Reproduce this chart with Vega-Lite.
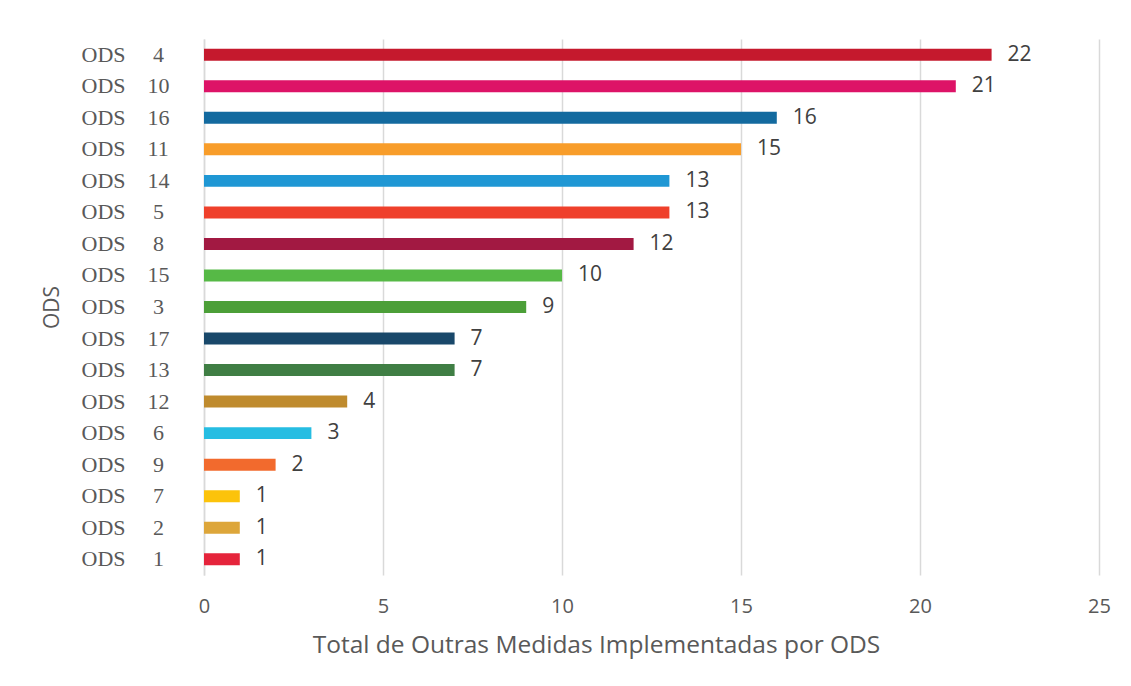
{
  "$schema": "https://vega.github.io/schema/vega-lite/v6.json",
  "autosize": "none",
  "width": 895,
  "height": 536,
  "padding": {"left": 204, "top": 39, "right": 32, "bottom": 111},
  "background": "white",
  "config": {"view": {"stroke": null}},
  "data": {"values": [
    {"ods": "ODS 4", "total": 22, "color": "#C5192D"},
    {"ods": "ODS 10", "total": 21, "color": "#DD1367"},
    {"ods": "ODS 16", "total": 16, "color": "#136A9F"},
    {"ods": "ODS 11", "total": 15, "color": "#F89D2A"},
    {"ods": "ODS 14", "total": 13, "color": "#1F97D4"},
    {"ods": "ODS 5", "total": 13, "color": "#EF402B"},
    {"ods": "ODS 8", "total": 12, "color": "#A21942"},
    {"ods": "ODS 15", "total": 10, "color": "#56B946"},
    {"ods": "ODS 3", "total": 9, "color": "#4C9F38"},
    {"ods": "ODS 17", "total": 7, "color": "#19486A"},
    {"ods": "ODS 13", "total": 7, "color": "#3F7E44"},
    {"ods": "ODS 12", "total": 4, "color": "#BF8B2E"},
    {"ods": "ODS 6", "total": 3, "color": "#26BDE2"},
    {"ods": "ODS 9", "total": 2, "color": "#F26A2D"},
    {"ods": "ODS 7", "total": 1, "color": "#FCC30B"},
    {"ods": "ODS 2", "total": 1, "color": "#DDA63A"},
    {"ods": "ODS 1", "total": 1, "color": "#E5243B"}
  ]},
  "encoding": {
    "y": {
      "field": "ods", "type": "nominal", "sort": null,
      "scale": {"paddingInner": 0.62, "paddingOuter": 0.31},
      "axis": {
        "title": "ODS",
        "titleFont": "Open Sans", "titleFontSize": 21, "titleFontWeight": "normal", "titleColor": "#595959",
        "titlePadding": 19,
        "labelFont": "Liberation Serif", "labelFontSize": 22, "labelColor": "#595959",
        "labelAlign": "left", "labelPadding": 123, "ticks": false,
        "labelExpr": "replace(datum.value, ' ', length(datum.value) == 5 ? '\u00a0\u00a0\u00a0\u00a0\u00a0' : '\u00a0\u00a0\u00a0\u00a0')",
        "domainColor": "#D9D9D9", "domainWidth": 1.5, "grid": false
      }
    }
  },
  "layer": [
    {
      "mark": {"type": "bar"},
      "encoding": {
        "x": {
          "field": "total", "type": "quantitative",
          "scale": {"domain": [0, 25], "nice": false},
          "axis": {
            "title": "Total de Outras Medidas Implementadas por ODS",
            "titleFont": "Open Sans", "titleFontSize": 24.5, "titleFontWeight": "normal", "titleColor": "#595959",
            "titleX": 392, "titlePadding": 17,
            "values": [0, 5, 10, 15, 20, 25],
            "labelFont": "Open Sans", "labelFontSize": 20, "labelColor": "#595959",
            "labelPadding": 21, "labelFlush": false, "ticks": false, "domain": false,
            "grid": true, "gridColor": "#D9D9D9", "gridWidth": 1.5
          }
        },
        "color": {"field": "color", "type": "nominal", "scale": null}
      }
    },
    {
      "mark": {"type": "text", "align": "left", "baseline": "middle", "dx": 16, "font": "Open Sans", "fontSize": 21, "color": "#404040"},
      "encoding": {
        "x": {"field": "total", "type": "quantitative"},
        "text": {"field": "total", "type": "quantitative"}
      }
    }
  ]
}
